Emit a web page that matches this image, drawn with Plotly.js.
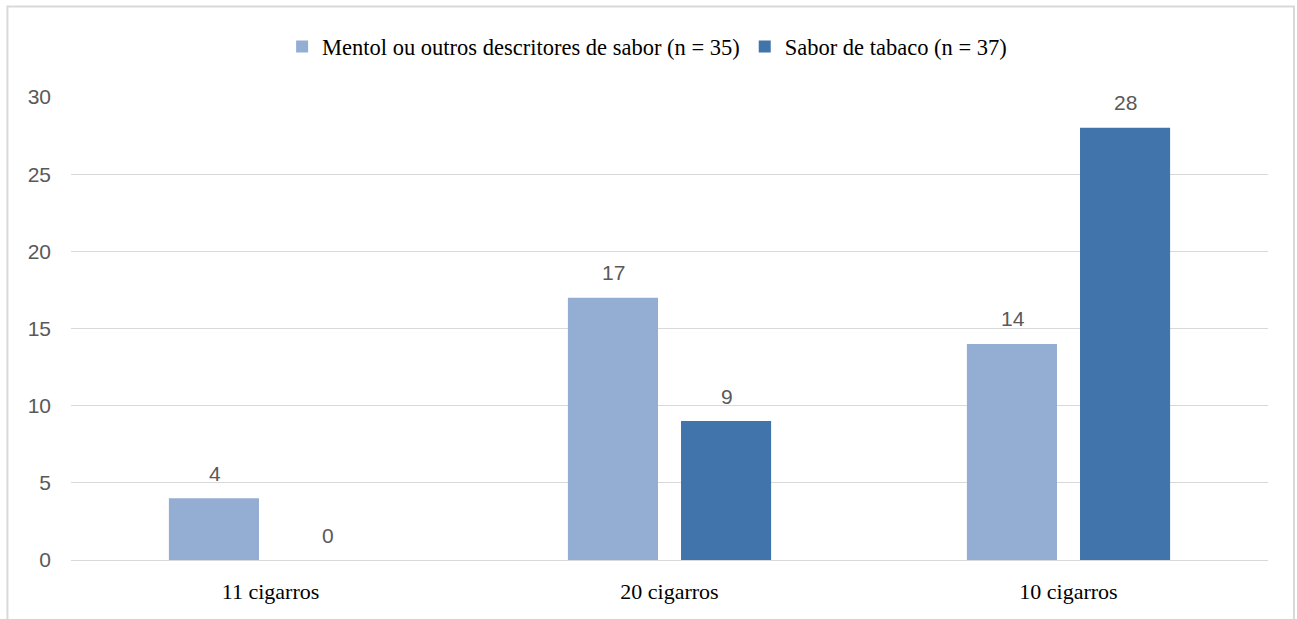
<!DOCTYPE html>
<html>
<head>
<meta charset="utf-8">
<script src="https://cdn.plot.ly/plotly-3.0.1.min.js"></script>
<style>html,body{margin:0;padding:0;background:#fff;}#chart{width:1297px;height:619px;}</style>
</head>
<body>
<div id="chart"></div>
<script>
const categories = ["11 cigarros", "20 cigarros", "10 cigarros"];
const seriesNames = ["Mentol ou outros descritores de sabor (n = 35)", "Sabor de tabaco (n = 37)"];
const mentolValues = [4, 17, 14];
const tabacoValues = [0, 9, 28];
const yTicks = [0, 5, 10, 15, 20, 25, 30];

const colors = ["#94ADD3", "#4174AA"];
const labelFont = {family: "Liberation Sans, Arial, sans-serif", size: 21, color: "#595959"};

const traces = [
  {type: "bar", name: seriesNames[0], x: categories, y: mentolValues, marker: {color: colors[0]}, hoverinfo: "skip"},
  {type: "bar", name: seriesNames[1], x: categories, y: tabacoValues, marker: {color: colors[1]}, hoverinfo: "skip"}
];

const annotations = [];
[mentolValues, tabacoValues].forEach((vals, si) => {
  vals.forEach((v, i) => {
    annotations.push({
      x: categories[i], y: v, xref: "x", yref: "y",
      text: String(v), showarrow: false,
      xshift: si === 0 ? -56 : 57, yshift: 25,
      font: labelFont
    });
  });
});

const layout = {
  width: 1297, height: 619,
  margin: {l: 71, r: 29, t: 97, b: 59},
  paper_bgcolor: "#ffffff", plot_bgcolor: "#ffffff",
  barmode: "group", bargap: 0.433, bargroupgap: 0.2035,
  showlegend: true,
  legend: {orientation: "h", x: 0.4813, xanchor: "center", y: 1.108, yanchor: "middle",
    font: {family: "Liberation Serif, serif", size: 22.5, color: "#000000"},
    itemwidth: 30, traceorder: "normal"},
  xaxis: {
    type: "category", tickvals: categories, ticktext: categories,
    showgrid: false, showline: true, linecolor: "#d9d9d9", linewidth: 1,
    ticks: "", ticklabelstandoff: 12,
    tickfont: {family: "Liberation Serif, serif", size: 22, color: "#000000"},
    fixedrange: true
  },
  yaxis: {
    range: [0, 30], tickvals: yTicks, ticktext: yTicks.map(String),
    showgrid: true, gridcolor: "#d9d9d9", gridwidth: 1,
    zeroline: false, showline: false, ticks: "",
    ticklabelstandoff: 19,
    tickfont: labelFont, fixedrange: true
  },
  annotations: annotations,
  shapes: [
    {type: "rect", xref: "paper", yref: "paper",
     x0: -0.0531, x1: 1.0217, y0: -0.2, y1: 1.1955,
     line: {color: "#d9d9d9", width: 2}, fillcolor: "rgba(0,0,0,0)", layer: "below"}
  ]
};

Plotly.newPlot("chart", traces, layout, {displayModeBar: false, staticPlot: true});
</script>
</body>
</html>
